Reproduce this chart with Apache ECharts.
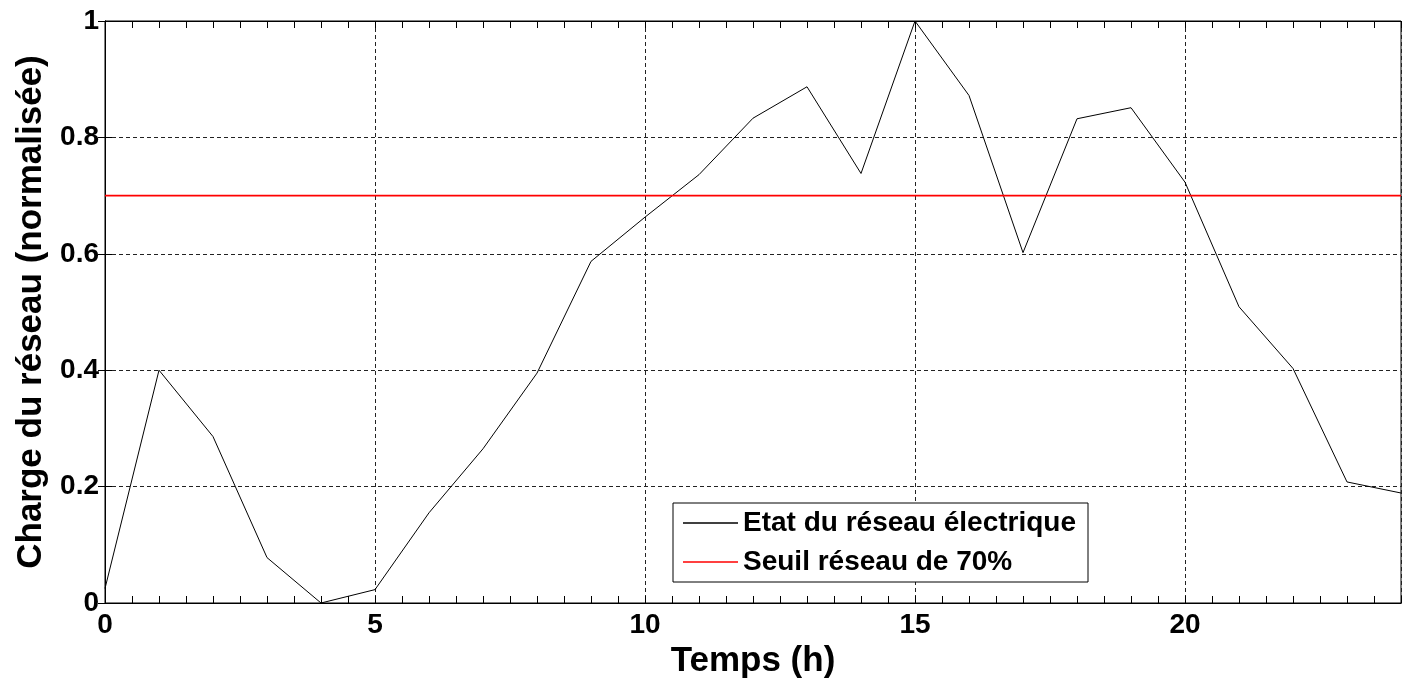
<!DOCTYPE html>
<html>
<head>
<meta charset="utf-8">
<script src="https://cdn.jsdelivr.net/npm/echarts@6/dist/echarts.min.js"></script>
<style>
html,body{margin:0;padding:0;background:#fff;}
#c{width:1403px;height:678px;}
</style>
</head>
<body>
<div id="c"></div>
<script>
const hours = [0,1,2,3,4,5,6,7,8,9,10,11,12,13,14,15,16,17,18,19,20,21,22,23,24];
const loadValues = [0.025,0.40,0.286,0.078,0.0,0.023,0.155,0.265,0.395,0.587,0.663,0.736,0.833,0.887,0.738,1.0,0.872,0.602,0.832,0.851,0.723,0.509,0.403,0.208,0.189];
const thresholdValue = 0.7;
const xTickLabels = [0,5,10,15,20];
const yTickLabels = [0,0.2,0.4,0.6,0.8,1];
const seriesNames = ['Etat du réseau électrique','Seuil réseau de 70%'];

const FONT = '"Liberation Sans", Arial, sans-serif';
const loadData = hours.map((h,i)=>[h, loadValues[i]]);
const thrData = [[hours[0], thresholdValue],[hours[hours.length-1], thresholdValue]];

const chart = echarts.init(document.getElementById('c'), null, {renderer:'canvas'});
const gridDash = {color:'#222', width:1, type:[4,3]};
chart.setOption({
  animation:false,
  backgroundColor:'#fff',
  grid:{left:105,right:2,top:21,bottom:75,show:true,borderColor:'#000',borderWidth:1,backgroundColor:'#fff',
        containLabel:false, outerBoundsMode:'none'},
  legend:{
    data:seriesNames,
    orient:'vertical',
    left:673, top:503,
    width:427,
    backgroundColor:'#fff',
    borderColor:'#000', borderWidth:1,
    padding:[6,12,6,10],
    itemGap:11,
    icon:'rect',
    itemWidth:55, itemHeight:1.5,
    textStyle:{fontFamily:FONT,fontWeight:'bold',fontSize:28,color:'#000'}
  },
  xAxis:[
    {type:'value',min:0,max:24,interval:5,position:'bottom',
     name:'Temps (h)',nameLocation:'middle',nameGap:37,
     nameTextStyle:{fontFamily:FONT,fontWeight:'bold',fontSize:35,color:'#000'},
     axisLine:{show:true,lineStyle:{color:'#000',width:1}},
     axisTick:{show:false},
     axisLabel:{show:true,margin:8,showMaxLabel:false,fontFamily:FONT,fontWeight:'bold',fontSize:28,color:'#000',
       formatter:function(v){return xTickLabels.indexOf(v)>=0 ? String(v) : '';}},
     splitLine:{show:true,lineStyle:gridDash}},
    {type:'value',min:0,max:24,interval:0.5,position:'bottom',
     axisLine:{show:true,lineStyle:{color:'#000',width:1}},
     axisTick:{show:true,inside:true,length:7,lineStyle:{color:'#000',width:1}},
     axisLabel:{show:false},splitLine:{show:false}},
    {type:'value',min:0,max:24,interval:0.5,position:'top',
     axisLine:{show:true,lineStyle:{color:'#000',width:1}},
     axisTick:{show:true,inside:true,length:7,lineStyle:{color:'#000',width:1}},
     axisLabel:{show:false},splitLine:{show:false}}
  ],
  yAxis:[
    {type:'value',min:0,max:1,interval:0.2,position:'left',
     name:'Charge du réseau (normalisée)',nameLocation:'middle',nameGap:56,nameRotate:90,
     nameTextStyle:{fontFamily:FONT,fontWeight:'bold',fontSize:35,color:'#000'},
     axisLine:{show:true,lineStyle:{color:'#000',width:1}},
     axisTick:{show:true,inside:true,length:7,lineStyle:{color:'#000',width:1}},
     axisLabel:{show:true,margin:6,fontFamily:FONT,fontWeight:'bold',fontSize:28,color:'#000',
       formatter:function(v){const r=Math.round(v*10)/10; return yTickLabels.indexOf(r)>=0 ? String(r) : '';}},
     splitLine:{show:true,lineStyle:gridDash}},
    {type:'value',min:0,max:1,interval:0.2,position:'right',
     axisLine:{show:true,lineStyle:{color:'#000',width:1}},
     axisTick:{show:true,inside:true,length:7,lineStyle:{color:'#000',width:1}},
     axisLabel:{show:false},splitLine:{show:false}}
  ],
  series:[
    {name:seriesNames[0],type:'line',xAxisIndex:0,yAxisIndex:0,data:loadData,symbol:'none',
     lineStyle:{color:'#000',width:1},itemStyle:{color:'#000'}},
    {name:seriesNames[1],type:'line',xAxisIndex:0,yAxisIndex:0,data:thrData,symbol:'none',
     lineStyle:{color:'#ff0000',width:1.6},itemStyle:{color:'#ff0000'}}
  ]
});
</script>
</body>
</html>
